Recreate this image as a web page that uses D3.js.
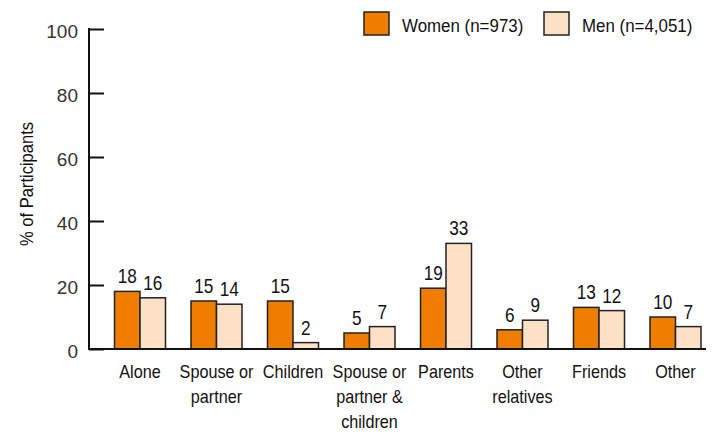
<!DOCTYPE html>
<html>
<head>
<meta charset="utf-8">
<script src="https://cdn.jsdelivr.net/npm/d3@7"></script>
<style>
  body { margin: 0; background: #fff; }
  svg text { font-family: "Liberation Sans", Arial, sans-serif; fill: #111; }
  .tick text { font-size: 19px; fill: #333; }
</style>
</head>
<body>
<div id="chart"></div>
<script>
var categories = [
    ['Alone'],
    ['Spouse or', 'partner'],
    ['Children'],
    ['Spouse or', 'partner &', 'children'],
    ['Parents'],
    ['Other', 'relatives'],
    ['Friends'],
    ['Other']
];
var women = [18, 15, 15, 5, 19, 6, 13, 10];
var men = [16, 14, 2, 7, 33, 9, 12, 7];
var seriesNames = ['Women (n=973)', 'Men (n=4,051)'];
var yTicks = [0, 20, 40, 60, 80, 100];

var width = 712;
var height = 432;
var colors = ['#ee7d00', '#fde1c6'];

var svg = d3.select('#chart')
    .append('svg')
    .attr('width', width)
    .attr('height', height);

// condensed look: squeeze text horizontally
function narrow(sel, px, py, sx) {
    return sel.attr('transform', 'translate(' + px + ',' + py + ') scale(' + sx + ',1)');
}

var y = d3.scaleLinear()
    .domain([0, 100])
    .range([349, 29]);

var x = d3.scaleBand()
    .domain(d3.range(categories.length))
    .range([101.75, 713.75])
    .paddingInner(1 / 3)
    .paddingOuter(1 / 6);

var sub = d3.scaleBand()
    .domain([0, 1])
    .range([0, x.bandwidth()]);

// y axis
var yAxis = d3.axisRight(y)
    .tickValues(yTicks)
    .tickSize(15)
    .tickFormat(d3.format('d'));

var gy = svg.append('g')
    .attr('transform', 'translate(89,0)')
    .call(yAxis);
gy.select('.domain').remove();
gy.selectAll('.tick line').attr('stroke', '#111').attr('stroke-width', 2);
gy.selectAll('.tick text')
    .attr('x', -11)
    .attr('dy', '0.45em')
    .attr('text-anchor', 'end');

svg.append('line')
    .attr('x1', 89).attr('x2', 89)
    .attr('y1', y(100) - 1).attr('y2', y(0) + 1)
    .attr('stroke', '#111').attr('stroke-width', 2);

svg.append('text')
    .attr('transform', 'translate(33,184) rotate(-90) scale(0.92,1)')
    .attr('text-anchor', 'middle')
    .style('font-size', '18px')
    .text('% of Participants');

// bars
var groups = svg.selectAll('.grp')
    .data(categories)
    .enter()
    .append('g')
    .attr('class', 'grp')
    .attr('transform', function(d, i) { return 'translate(' + x(i) + ',0)'; });

groups.each(function(d, i) {
    var g = d3.select(this);
    var vals = [women[i], men[i]];
    vals.forEach(function(v, s) {
        g.append('rect')
            .attr('x', sub(s))
            .attr('y', y(v))
            .attr('width', sub.bandwidth())
            .attr('height', y(0) - y(v))
            .attr('fill', colors[s])
            .attr('stroke', '#222')
            .attr('stroke-width', 1.5);
        narrow(g.append('text'), sub(s) + sub.bandwidth() / 2, y(v) - 8, 0.86)
            .attr('text-anchor', 'middle')
            .style('font-size', '20px')
            .text(v);
    });
    d.forEach(function(line, k) {
        narrow(g.append('text'), x.bandwidth() / 2, 378 + k * 25, 0.9)
            .attr('text-anchor', 'middle')
            .style('font-size', '18px')
            .text(line);
    });
});

// baseline
svg.append('line')
    .attr('x1', 88).attr('x2', 706)
    .attr('y1', y(0)).attr('y2', y(0))
    .attr('stroke', '#111').attr('stroke-width', 2);

// legend
var legendX = [364, 544];
var legend = svg.selectAll('.legend')
    .data(seriesNames)
    .enter()
    .append('g')
    .attr('class', 'legend')
    .attr('transform', function(d, i) { return 'translate(' + legendX[i] + ',12)'; });

legend.append('rect')
    .attr('width', 25)
    .attr('height', 23)
    .attr('fill', function(d, i) { return colors[i]; })
    .attr('stroke', '#222')
    .attr('stroke-width', 1.5);

legend.each(function(d) {
    narrow(d3.select(this).append('text'), 38, 20, 0.89)
        .style('font-size', '19px')
        .text(d);
});
</script>
</body>
</html>
